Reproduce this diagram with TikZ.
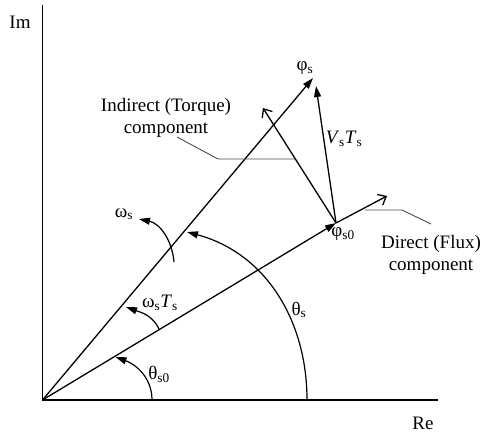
\documentclass[tikz,border=0pt]{standalone}
\usepackage{fontspec}
\setmainfont{Liberation Serif}
\usetikzlibrary{arrows.meta}

\begin{document}
\begin{tikzpicture}[x=1pt,y=1pt,>={Triangle[length=11pt,width=7pt]},font=\fontsize{19}{22}\selectfont]
\tikzstyle{axis}=[line width=1.3pt]
\tikzstyle{vec}=[line width=1.3pt,->]
\tikzstyle{barb}=[line width=1.3pt,-{Straight Barb[length=7pt,width=12pt]}]
\tikzstyle{turn}=[line width=1.2pt,->]
\tikzstyle{lead}=[line width=0.9pt,black!70]
\useasboundingbox (0,0) rectangle (481,434);
% axes
\coordinate (o) at (42.5,34);
\coordinate (imtop) at (42.5,429);
\coordinate (reend) at (438,34);
\draw[axis] (imtop) -- (o) -- (reend);
\node (im) at (20,412) {Im};
\node (re) at (423,11) {Re};
% flux vectors
\coordinate (p0) at (336,211);
\coordinate (ps) at (313,356);
\coordinate (vt) at (316,348);
\coordinate (dend) at (387,238);
\coordinate (tend) at (263,326);
\draw[vec] (o) -- (p0);
\draw[vec] (o) -- (ps);
\draw[vec] (p0) -- (vt);
\draw[barb] (p0) -- (dend);
\draw[barb] (p0) -- (tend);
\node (phis) at (305,366) {φ\textsubscript{s}};
\node (phis0) at (343,200) {φ\textsubscript{s0}};
\node (vsts) at (344,295) {\textit{V}\textsubscript{s}\textit{T}\textsubscript{s}};
% component labels
\node[align=center] (indirect) at (166,316) {Indirect (Torque)\\component};
\node[align=center] (direct) at (431,179) {Direct (Flux)\\component};
\coordinate (ia) at (177,297);
\coordinate (ib) at (218,275);
\coordinate (ic) at (295,275);
\draw[lead] (ia) -- (ib) -- (ic);
\coordinate (da) at (365,224);
\coordinate (db) at (402,224);
\coordinate (dc) at (431,210);
\draw[lead] (da) -- (db) -- (dc);
% angles
\coordinate (t0a) at (152,34);
\coordinate (t0b) at (115.5,77);
\draw[turn] (t0a) to[out=90,in=-20] (t0b);
\node (th0) at (159,60) {θ\textsubscript{s0}};
\coordinate (tsa) at (307,34);
\coordinate (tsb) at (187,202);
\draw[turn] (tsa) to[out=90,in=-15] (tsb);
\node (ths) at (299,124) {θ\textsubscript{s}};
\coordinate (wta) at (159,105);
\coordinate (wtb) at (126,127);
\draw[turn] (wta) to[out=115,in=-20] (wtb);
\node (wts) at (160,131) {ω\textsubscript{s}\textit{T}\textsubscript{s}};
\coordinate (wa) at (174,172);
\coordinate (wb) at (139,215);
\draw[turn] (wa) to[out=95,in=-12] (wb);
\node (ws) at (124,220) {ω\textsubscript{s}};
\end{tikzpicture}
\end{document}
